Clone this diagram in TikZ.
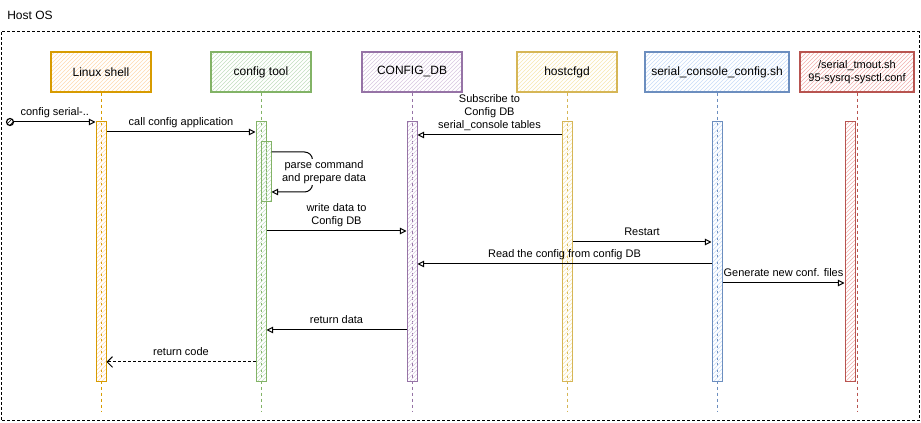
\documentclass[tikz,border=0pt]{standalone}
\usepackage{fontspec}
\setmainfont{Liberation Sans}
\usetikzlibrary{arrows.meta,patterns}

\definecolor{shellline}{HTML}{D79B00}
\definecolor{shellfill}{HTML}{FFD9B0}
\definecolor{toolline}{HTML}{82B366}
\definecolor{toolfill}{HTML}{C2DEC0}
\definecolor{dbline}{HTML}{9673A6}
\definecolor{dbfill}{HTML}{D8C8E0}
\definecolor{cfgline}{HTML}{D6B656}
\definecolor{cfgfill}{HTML}{F8E7B0}
\definecolor{scline}{HTML}{6C8EBF}
\definecolor{scfill}{HTML}{C8DCF8}
\definecolor{fileline}{HTML}{B85450}
\definecolor{filefill}{HTML}{F0B0AE}

\tikzset{
  party/.style 2 args={draw=#1, line width=0.9pt, pattern=north east lines, pattern color=#2,
    minimum height=30pt, minimum width=75pt, inner sep=2pt, align=center,
    font=\fontsize{9}{10.5}\selectfont},
  actbar/.style 2 args={draw=#1, line width=0.75pt, pattern=north east lines, pattern color=#2,
    minimum width=7.5pt, minimum height=195pt, inner sep=0pt},
  life/.style={draw=#1, dash pattern=on 2.25pt off 2.25pt, line width=0.6pt},
  msg/.style={draw, line width=0.75pt, -{Triangle[open,length=5pt,width=5pt]}},
  reply/.style={draw, line width=0.75pt, dash pattern=on 2.25pt off 1.5pt,
    -{Straight Barb[length=4pt,width=8pt]}},
  lbl/.style={midway, anchor=south, inner sep=0pt, yshift=2.5pt, text depth=2pt, align=center,
    font=\fontsize{8.25}{9.75}\selectfont},
}

\begin{document}
\begin{tikzpicture}[x=0.75pt, y=-0.75pt]
\useasboundingbox (0,0) rectangle (921,423);

% host frame
\node[anchor=west, inner sep=0pt, font=\fontsize{9}{10.5}\selectfont] (host) at (7,15) {Host OS};
\draw[dash pattern=on 2.25pt off 1.5pt, line width=0.75pt] (1,32) rectangle (919,421);

% participants
\node[party={shellline}{shellfill}] (shell) at (101,72) {Linux shell};
\node[party={toolline}{toolfill}] (tool) at (261,72) {config tool};
\node[party={dbline}{dbfill}] (db) at (412,72) {CONFIG\_DB};
\node[party={cfgline}{cfgfill}] (hostcfgd) at (567,72) {hostcfgd};
\node[party={scline}{scfill}, minimum width=108pt] (sccfg) at (717,72) {serial\_console\_config.sh};
\node[party={fileline}{filefill}, minimum width=85.5pt, font=\fontsize{8.25}{9.75}\selectfont] (files) at (857,72) {/serial\_tmout.sh\\95-sysrq-sysctl.conf};

% lifelines
\coordinate (bottom) at (0,412);
\foreach \p/\c in {shell/shellline, tool/toolline, db/dbline, hostcfgd/cfgline, sccfg/scline, files/fileline}
  \draw[life=\c] (\p.south) -- (\p.south |- bottom);

% activations
\node[actbar={shellline}{shellfill}] (shellbar) at (101,252) {};
\node[actbar={toolline}{toolfill}] (toolbar) at (261,252) {};
\node[actbar={toolline}{toolfill}, minimum height=45pt] (innerbar) at (266,172) {};
\node[actbar={dbline}{dbfill}] (dbbar) at (412,252) {};
\node[actbar={cfgline}{cfgfill}] (cfgbar) at (567,252) {};
\node[actbar={scline}{scfill}] (scbar) at (717,252) {};
\node[actbar={fileline}{filefill}] (filebar) at (850,252) {};

% message rows
\foreach \n/\y in {r1/122, r2/132, r3/152, r4/192, r5/231, r6/135, r7/242, r8/264, r9/283, r10/330, r11/362}
  \coordinate (\n) at (0,\y);

\node[draw, circle, line width=0.9pt, minimum size=5.25pt, inner sep=0pt, pattern=north east lines] (start) at (10,122) {};

% messages
\draw[msg] (start) -- (shellbar.west |- r1) node[lbl] {config serial-..};
\draw[msg] (shellbar.east |- r2) -- (toolbar.west |- r2) node[lbl] {call config application};
\draw[msg, rounded corners=6pt] (innerbar.east |- r3) -- ++(41,0) |- (innerbar.east |- r4);
\node[align=center, fill=white, inner sep=1pt, font=\fontsize{8.25}{9.75}\selectfont] (parse) at (324,172) {parse command\\and prepare data};
\draw[msg] (toolbar.east |- r5) -- (dbbar.west |- r5) node[lbl] {write data to\\Config DB};
\draw[msg] (cfgbar.west |- r6) -- (dbbar.east |- r6) node[lbl] {Subscribe to\\Config DB\\serial\_console tables};
\draw[msg] (cfgbar.east |- r7) -- (scbar.west |- r7) node[lbl] {Restart};
\draw[msg] (scbar.west |- r8) -- (dbbar.east |- r8) node[lbl] {Read the config from config DB};
\draw[msg] (scbar.east |- r9) -- (filebar.west |- r9) node[lbl] {Generate new conf. files};
\draw[msg] (dbbar.west |- r10) -- (toolbar.east |- r10) node[lbl] {return data};
\draw[reply] (toolbar.west |- r11) -- (shellbar.east |- r11) node[lbl] {return code};
\end{tikzpicture}
\end{document}
